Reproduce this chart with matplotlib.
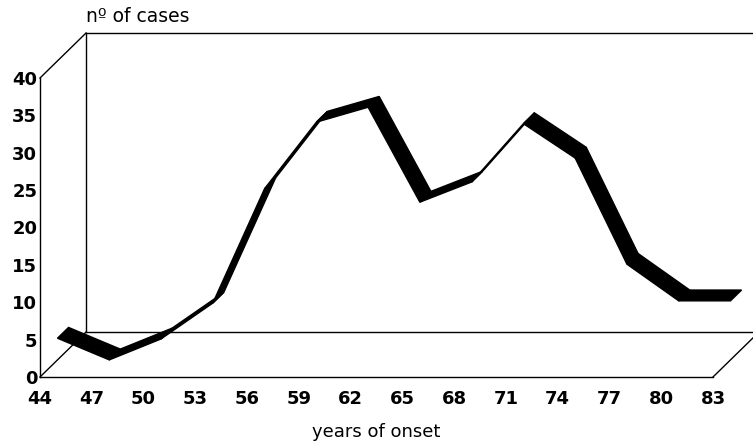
import numpy as np
import matplotlib
matplotlib.use("Agg")
import matplotlib.pyplot as plt
from matplotlib.patches import Polygon

# data
years = [44, 47, 50, 53, 56, 59, 62, 65, 68, 71, 74, 77, 80, 83]
cases = [2.9, 0.0, 2.8, 7.6, 22.9, 31.8, 33.8, 21.1, 23.8, 31.6, 27.0, 12.8, 7.9, 7.9]
yticks = [0, 5, 10, 15, 20, 25, 30, 35, 40]

# depth of the pseudo 3d box, in data units (x: categories, y: cases)
DX, DY = 0.889, 6.02
# ribbon sits in the middle of the depth
R0, R1 = 0.38, 0.62

fig = plt.figure(figsize=(7.53, 4.42), dpi=100)
ax = fig.add_axes([40 / 753, 65 / 442, 673 / 753, 299 / 442])
ax.set_xlim(0, len(years) - 1)
ax.set_ylim(0, 40)
for s in ax.spines.values():
    s.set_visible(False)

x = np.arange(len(years))
y = np.array(cases)

# frame lines
n = len(years) - 1
kw = dict(color="black", lw=1.0, clip_on=False, zorder=1)
ax.plot([0, 0], [0, 40], **kw)
ax.plot([0, DX], [40, 40 + DY], **kw)
ax.plot([0, DX], [0, DY], **kw)
ax.plot([DX, DX], [DY, 40 + DY], **kw)
ax.plot([DX, n + DX + 1], [40 + DY, 40 + DY], **kw)
ax.plot([DX, n + DX + 1], [DY, DY], **kw)
ax.plot([0, n], [0, 0], **kw)
ax.plot([n, n + DX], [0, DY], **kw)

# ribbon
xf, yf = x + R0 * DX, y + R0 * DY
xb, yb = x + R1 * DX, y + R1 * DY
for i in range(n):
    pts = [(xf[i], yf[i]), (xf[i + 1], yf[i + 1]), (xb[i + 1], yb[i + 1]), (xb[i], yb[i])]
    ax.add_patch(Polygon(pts, closed=True, facecolor="black", edgecolor="black",
                         lw=1.0, clip_on=False, zorder=3))

ax.set_xticks(x)
ax.set_xticklabels([str(v) for v in years])
ax.set_yticks(yticks)
ax.set_yticklabels([str(v) for v in yticks])
ax.tick_params(length=0)
ax.tick_params(axis="x", pad=9)
ax.tick_params(axis="y", pad=2)
for lab in ax.get_xticklabels() + ax.get_yticklabels():
    lab.set_fontfamily("DejaVu Sans")
    lab.set_fontweight("bold")
    lab.set_fontsize(13)

ax.set_xlabel("years of onset", fontsize=13, family="DejaVu Sans", labelpad=11)
ax.annotate("nº of cases", xy=(DX, 40 + DY), xytext=(0, 5), textcoords="offset points",
            ha="left", va="bottom", fontsize=13.5, family="DejaVu Sans",
            fontweight="medium", annotation_clip=False)

fig.savefig("out.png", dpi=100)
